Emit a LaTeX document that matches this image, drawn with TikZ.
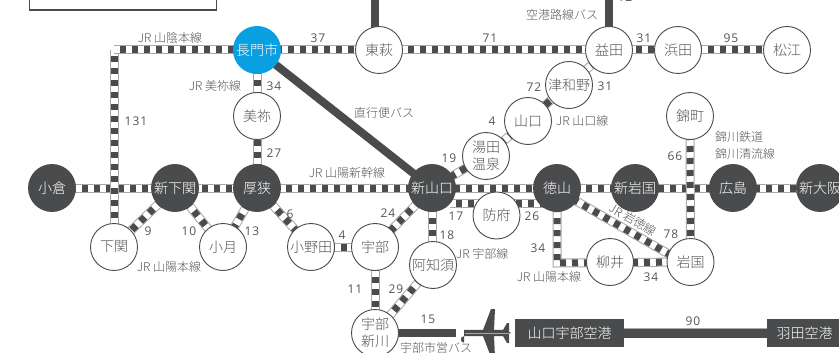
\documentclass[tikz,border=0pt]{standalone}
\usepackage{fontspec}
\setmainfont{Noto Sans CJK JP Light}
\newfontfamily\numfont{Open Sans}[LetterSpace=8]
\usetikzlibrary{calc}
\definecolor{ink}{HTML}{4A4B4D}
\definecolor{rail}{HTML}{A8A8A8}
\definecolor{blu}{HTML}{0A9FE0}
\definecolor{txt}{HTML}{555555}
\tikzset{
 st/.style={circle,draw=ink,line width=.9pt,fill=white,minimum size=47pt,inner sep=0pt,text=txt,font=\fontsize{14}{15}\selectfont,align=center},
 hub/.style={circle,draw=ink,line width=.9pt,fill=ink,minimum size=47pt,inner sep=0pt,text=white,font=\fontsize{14}{15}\selectfont,align=center},
 lab/.style={text=txt,font=\fontsize{12}{12}\selectfont,inner sep=0pt},
 num/.style={text=txt,font=\numfont\fontsize{12}{12}\selectfont,inner sep=0pt},
 bus/.style={draw=ink,line width=8pt},
 box/.style={fill=ink,text=white,font=\fontsize{14}{14}\selectfont,inner sep=0pt,minimum height=28pt}
}
\newcommand{\railway}[1]{%
 \draw[rail,line width=9pt] #1;
 \draw[white,line width=7pt] #1;
 \draw[ink,line width=7pt,dash pattern=on 6pt off 6pt,dash phase=6pt] #1;
}
\begin{document}
\begin{tikzpicture}[x=1pt,y=-1pt]
\useasboundingbox (0,0) rectangle (839,353);
\fill[white] (0,0) rectangle (839,353);
\draw[ink,line width=1.2pt,fill=white] (29.5,-5) rectangle (216.5,10);
% coordinates
\coordinate (c1) at (114,50);
\coordinate (c3) at (557,263);
\coordinate (tp) at (375,-5);
\coordinate (tpe) at (375,30);
\coordinate (tm) at (609,-5);
\coordinate (bus1) at (456,333);
\coordinate (bus2) at (624,333);
\coordinate (bus3) at (767,333);
\coordinate (sy) at (450,203);
\coordinate (sh) at (548,203);
\coordinate (yx) at (432,265);
\coordinate (tk1) at (557,190);
\coordinate (tk2) at (690.5,266.5);
\path
 (257,50) coordinate (nag0) (379,50) coordinate (hag0) (609,50) coordinate (mas0) (678,50) coordinate (ham0) (787,50) coordinate (mat0)
 (257,116) coordinate (mine0) (569,85) coordinate (tsu0) (528,121) coordinate (yam0) (486,156) coordinate (yud0) (690,116) coordinate (nis0)
 (52,188) coordinate (kok0) (175,188) coordinate (ssm0) (257,188) coordinate (asa0) (432,188) coordinate (sya0) (557,188) coordinate (tok0)
 (635,188) coordinate (sig0) (733,188) coordinate (hir0) (820,188) coordinate (sos0)
 (114,247) coordinate (shi0) (223,247) coordinate (ozu0) (311,247) coordinate (ono0) (375,247) coordinate (ube0) (433,265) coordinate (aji0)
 (496.5,215.5) coordinate (hof0) (610,262) coordinate (yan0) (690.5,262) coordinate (iwa0) (375,333) coordinate (usk0);
% tracks
\railway{(kok0) -- (sos0)}
\railway{(c1) -- (shi0)}
\railway{(c1) -- (nag0) -- (hag0) -- (mas0) -- (ham0) -- (mat0)}
\railway{(nag0) -- (mine0) -- (asa0)}
\railway{(ssm0) -- (shi0)}
\railway{(ssm0) -- (ozu0)}
\railway{(asa0) -- (ozu0)}
\railway{(asa0) -- (ono0)}
\railway{(ono0) -- (ube0)}
\railway{(sya0) -- (ube0)}
\railway{(ube0) -- (usk0)}
\railway{(sya0) -- (yx)}
\railway{(aji0) -- (usk0)}
\railway{(mas0) -- (yud0) -- (sya0)}
\railway{(sy) -- (sh)}
\railway{(tok0) -- (c3) -- (iwa0)}
\railway{(tk1) -- (tk2)}
\railway{(nis0) -- (iwa0)}
% buses
\draw[bus] (nag0) -- (sya0);
\draw[bus] (tp) -- (tpe);
\draw[bus] (tm) -- (mas0);
\draw[bus] (usk0) -- (bus1);
\draw[ink,line width=9pt] (bus2) -- (bus3);
\draw[rail,line width=.6pt] (624,328.6) -- (767,328.6);
% stations
\node[circle,fill=blu,minimum size=48pt,inner sep=0pt,text=white,font=\fontsize{14}{15}\selectfont] (nag) at (nag0) {長門市};
\node[st] (hag) at (hag0) {東萩};
\node[st] (mas) at (mas0) {益田};
\node[st] (ham) at (ham0) {浜田};
\node[st] (mat) at (mat0) {松江};
\node[st] (mine) at (mine0) {美祢};
\node[st] (tsu) at (tsu0) {津和野};
\node[st] (yam) at (yam0) {山口};
\node[st,font=\fontsize{14}{17}\selectfont] (yud) at (yud0) {湯田\\温泉};
\node[st] (nis) at (nis0) {錦町};
\node[hub] (kok) at (kok0) {小倉};
\node[hub] (ssm) at (ssm0) {新下関};
\node[hub] (asa) at (asa0) {厚狭};
\node[hub] (sya) at (sya0) {新山口};
\node[hub] (tok) at (tok0) {徳山};
\node[hub] (sig) at (sig0) {新岩国};
\node[hub] (hir) at (hir0) {広島};
\node[hub] (sos) at (sos0) {新大阪};
\node[st] (shi) at (shi0) {下関};
\node[st] (ozu) at (ozu0) {小月};
\node[st] (ono) at (ono0) {小野田};
\node[st] (ube) at (ube0) {宇部};
\node[st] (aji) at (aji0) {阿知須};
\node[st] (hof) at (hof0) {防府};
\node[st] (yan) at (yan0) {柳井};
\node[st] (iwa) at (iwa0) {岩国};
\node[st,font=\fontsize{14}{17}\selectfont] (usk) at (usk0) {宇部\\新川};
% airports
\node[box,minimum width=109pt] (yub) at (569.5,333) {山口宇部空港};
\node[box,minimum width=78pt,text width=72pt,align=center] (han) at (806,333) {羽田空港\hspace*{3pt}};
% plane
\fill[ink] (464,329.8) -- (505,330) -- (511,333) -- (505,336) -- (464,336.2) arc (270:90:3.2) -- cycle;
\fill[ink] (483,330) -- (491,309) -- (495,309) -- (494,330) -- cycle;
\fill[ink] (483,336) -- (491,357) -- (495,357) -- (494,336) -- cycle;
\fill[ink] (503,330) -- (507,323) -- (509,323) -- (509,343) -- (507,343) -- (503,336) -- cycle;
\draw[rail,line width=.5pt] (465,333) -- (510,333);
% labels
\node[lab] at (170,38) {JR 山陰本線};
\node[lab] at (215,86) {JR 美祢線};
\node[lab] at (384,113) {直行便バス};
\node[lab] at (347,173) {JR 山陽新幹線};
\node[lab] at (169,267) {JR 山陽本線};
\node[lab] at (562,15) {空港路線バス};
\node[lab,anchor=west] at (556,121) {JR 山口線};
\node[lab,anchor=west] at (715,137) {錦川鉄道};
\node[lab,anchor=west] at (715,154) {錦川清流線};
\node[lab,anchor=west] at (456,254) {JR 宇部線};
\node[lab] at (549,277) {JR 山陽本線};
\node[lab,rotate=-30] at (633,220) {JR 岩徳線};
\node[lab,anchor=west] at (400,348) {宇部市営バス};
\node[num] at (625,-3) {12};
\node[num] at (318,38) {37};
\node[num] at (490,38) {71};
\node[num] at (274,86) {34};
\node[num] at (136,121) {131};
\node[num] at (274,153) {27};
\node[num] at (605,86) {31};
\node[num] at (534,87) {72};
\node[num] at (492,121) {4};
\node[num] at (449,158) {19};
\node[num] at (644,38) {31};
\node[num] at (731,38) {95};
\node[num] at (675,156) {66};
\node[num] at (148,231) {9};
\node[num] at (189,231) {10};
\node[num] at (252,231) {13};
\node[num] at (290,214) {6};
\node[num] at (342,235) {4};
\node[num] at (388,213) {24};
\node[num] at (355,289) {11};
\node[num] at (396,289) {29};
\node[num] at (428,319) {15};
\node[num] at (456,216) {17};
\node[num] at (532,216) {26};
\node[num] at (447,235) {18};
\node[num] at (538,248) {34};
\node[num] at (651,277) {34};
\node[num] at (671,234) {78};
\node[num] at (693,321) {90};
\end{tikzpicture}
\end{document}
